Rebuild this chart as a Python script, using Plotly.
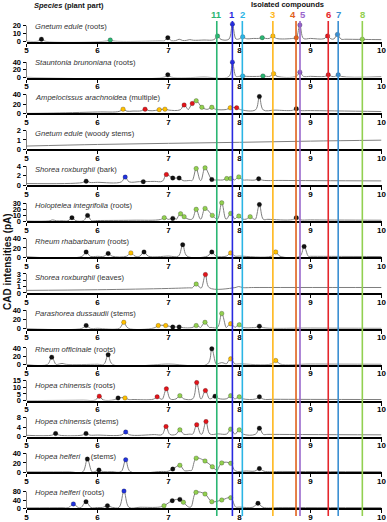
import numpy as np
import plotly.graph_objects as go

# ---------------- data ----------------
X_TICKS = [5, 6, 7, 8, 9, 10]

SPECIES = ["Gnetum edule", "Stauntonia brunoniana", "Ampelocissus arachnoidea",
           "Gnetum edule", "Shorea roxburghii", "Holoptelea integrifolia",
           "Rheum rhabarbarum", "Shorea roxburghii", "Parashorea dussaudii",
           "Rheum officinale", "Hopea chinensis", "Hopea chinensis",
           "Hopea helferi", "Hopea helferi"]
PARTS = ["(roots)", "(roots)", "(multiple)", "(woody stems)", "(bark)", "(roots)",
         "(roots)", "(leaves)", "(stems)", "(roots)", "(roots)", "(stems)",
         "\u00a0\u00a0\u00a0\u00a0(stems)", "(roots)"]
Y_TICKS = [[0, 10, 20], [0, 20, 40], [0, 20, 40], [0, 1, 2], [0, 2, 4],
           [0, 10, 20, 30], [0, 20, 40], [0, 1, 2, 3], [0, 20, 40], [0, 20, 40],
           [0, 5, 10, 15], [0, 4, 8], [0, 20, 40], [0, 40, 80]]
Y_MAX = [29, 60, 49, 2.47, 4.84, 39, 50.5, 3.63, 49.5, 55, 17.25, 9.7, 48.4, 111]

COMPOUNDS = ["11", "1", "2", "3", "4", "5", "6", "7", "8"]
COMPOUND_RT = [7.68, 7.90, 8.04, 8.47, 8.796, 8.852, 9.25, 9.39, 9.73]

# peaks: (retention time, intensity, marker class or None)
P01_PEAKS = [(5.21, 3, 'k'), (6.18, 2, 't'), (6.99, 5, 'k'), (7.15, 3, None), (7.30, 2.5, None),
             (7.69, 7, 't'), (7.90, 22, 'b'), (8.045, 6, 'c'), (8.32, 5, 't'), (8.47, 7, 'y'),
             (8.80, 5, 'o'), (8.85, 21, 'p'), (9.24, 7, 'r'), (9.38, 9, 's'), (9.73, 3, 'g')]
P01_BASE = [(5, 0.5), (6.9, 0.8), (7.5, 2), (8.2, 4), (9, 4), (9.5, 3), (10, 2.5)]

P02_PEAKS = [(6.99, 7, 'k'), (7.90, 40, 'b'), (8.045, 4, 'c'), (8.33, 4, 't'), (8.48, 10, 'y'),
             (8.85, 14, 'p'), (9.25, 7, 'r'), (9.39, 7, 's')]
P02_BASE = [(5, 0.5), (7.5, 1), (8, 3), (9, 3), (10, 2)]

P03_PEAKS = [(6.36, 9, 'y'), (6.67, 9, 'r'), (6.87, 8, 'y'), (6.95, 9, 'y'), (7.22, 18, 'r'),
             (7.335, 21, 'r'), (7.39, 27, 'g'), (7.47, 13, 'g'), (7.61, 13, 'g'), (7.87, 12, 'y'),
             (7.96, 12, 'r'), (8.28, 36, 'k'), (8.80, 10, 'k')]
P03_BASE = [(5, 0), (5.3, 0.5), (6, 3), (6.5, 5), (7, 7), (7.5, 9), (8, 8), (8.5, 7), (9, 6), (10, 4)]

P04_PEAKS = []
P04_BASE = [(5, 0.35), (6, 0.52), (7, 0.64), (8, 0.75), (9, 0.88), (10, 0.98)]

P05_PEAKS = [(5.84, 0.85, 'k'), (6.39, 1.7, 'b'), (6.645, 0.75, 'k'), (6.97, 2.25, 'r'),
             (7.06, 1.5, 'k'), (7.15, 1.5, 'k'), (7.39, 3.5, 'g'), (7.515, 3.65, 'g'),
             (7.61, 1.2, 'k'), (7.82, 1.4, 'g'), (7.876, 1.4, 'g'), (7.99, 1.75, 'g'), (8.27, 1.35, 'k')]
P05_BASE = [(5, 0.35), (6, 0.6), (6.8, 0.8), (7.3, 1.0), (7.7, 1.1), (8.1, 1.1), (8.6, 1.0), (10, 0.9)]

P06_PEAKS = [(5.37, 2, None), (5.64, 5.8, 'k'), (5.86, 9.7, 'k'), (6.94, 5.8, 'g'), (7.06, 4.6, 'k'),
             (7.17, 12.5, 'g'), (7.22, 7.5, 'g'), (7.39, 20, 'g'), (7.515, 21.5, 'g'), (7.617, 9.7, 'g'),
             (7.75, 31, 'g'), (7.876, 13, 'g'), (7.99, 8.5, 'g'), (8.15, 7.5, 'g'), (8.28, 28, 'k'),
             (8.80, 5.8, 'k')]
P06_BASE = [(5, 0), (5.5, 0.5), (6, 1), (6.5, 1.5), (7, 3), (7.6, 4), (8.4, 3), (9, 2), (10, 1.5)]

P07_PEAKS = [(5.84, 11, 'k'), (6.15, 7.7, 'k'), (6.47, 9, 'y'), (6.655, 11, 'k'), (7.2, 27, 'k'),
             (7.61, 11, 'k'), (7.876, 9, 'y'), (8.51, 11, 'y'), (8.91, 23, 'k')]
P07_BASE = [(5, 0.5), (6, 1.5), (7, 2), (8, 2), (9, 1.5), (10, 1)]

P08_PEAKS = [(7.39, 1.4, 'g'), (7.52, 2.9, 'r'), (7.99, 1.0, None)]
P08_BASE = [(5, 0.4), (6, 0.5), (7, 0.7), (7.3, 0.8), (8.2, 0.85), (10, 0.85)]

P09_PEAKS = [(5.84, 7, 'k'), (6.37, 14, 'y'), (6.856, 7, 'y'), (6.96, 7, 'y'), (7.06, 4, 'k'),
             (7.15, 4, 'k'), (7.39, 7, 'g'), (7.514, 14, 'g'), (7.75, 33, 'g'), (7.876, 11, 'y'),
             (7.997, 8.6, 'g'), (8.28, 5.6, 'k')]
P09_BASE = [(5, 0.5), (6, 1), (7, 2), (7.6, 3), (8.2, 2.5), (9, 1.5), (10, 1)]

P10_PEAKS = [(5.355, 18, 'k'), (5.5, 3, None), (6.15, 24, 'k'), (7.61, 38, 'k'), (7.75, 5, None),
             (7.876, 14, 'y'), (8.51, 10, 'y')]
P10_BASE = [(5, 0.5), (6, 1), (7, 1.5), (8, 2), (9, 1.5), (10, 1)]

P11_PEAKS = [(6.025, 3.3, 'r'), (6.29, 2, 'k'), (6.387, 2, 'y'), (6.84, 2.8, 'r'), (6.97, 8.8, 'r'),
             (7.16, 3.7, 'g'), (7.397, 13.5, 'r'), (7.52, 7.5, 'r'), (7.655, 3.3, 'k'),
             (7.876, 3.7, 'g'), (7.997, 2.8, 'g'), (8.28, 2.8, 'k')]
P11_BASE = [(5, 0), (5.8, 0.3), (6.5, 0.8), (7, 1.2), (7.7, 1.5), (8.5, 1), (10, 0.8)]

P12_PEAKS = [(5.41, 1.25, 'k'), (5.838, 1.25, 'k'), (6.397, 1.9, 'b'), (6.965, 4.2, 'r'),
             (7.16, 2.8, 'g'), (7.397, 5.0, 'r'), (7.528, 6.3, 'r'), (7.876, 3.1, 'g'),
             (7.997, 2.8, 'g'), (8.28, 3.5, 'k')]
P12_BASE = [(5, 0.5), (6, 0.6), (6.8, 0.8), (7.3, 1), (7.7, 1.1), (8.4, 0.9), (10, 0.7)]

P13_PEAKS = [(5.857, 28, 'k'), (6.02, 5, 'k'), (6.397, 26.5, 'b'), (7.06, 7, 'k'), (7.16, 15, 'g'),
             (7.39, 30, 'g'), (7.514, 24, 'g'), (7.617, 12, 'g'), (7.75, 20, 'g'), (7.876, 19, 'g'),
             (8.28, 8, 'k')]
P13_BASE = [(5, 1), (5.6, 1), (6.2, 1.5), (6.9, 2), (7.3, 4), (8.1, 3), (8.6, 2), (10, 1.5)]

P14_PEAKS = [(5.66, 21, 'b'), (5.838, 32, 'k'), (6.14, 12.5, 'k'), (6.373, 83, 'b'), (6.937, 12.5, 'g'),
             (7.053, 37, 'k'), (7.16, 43, 'k'), (7.21, 29, 'g'), (7.387, 77, 'g'), (7.514, 69, 'g'),
             (7.61, 32, 'g'), (7.75, 40, 'g'), (7.876, 51, 'g'), (8.26, 24, 'k')]
P14_BASE = [(5, 2), (5.5, 3), (6, 4), (6.6, 5), (7, 6), (7.7, 8), (8, 6), (8.6, 4), (10, 3)]

PANEL_PEAKS = [P01_PEAKS, P02_PEAKS, P03_PEAKS, P04_PEAKS, P05_PEAKS, P06_PEAKS, P07_PEAKS,
               P08_PEAKS, P09_PEAKS, P10_PEAKS, P11_PEAKS, P12_PEAKS, P13_PEAKS, P14_PEAKS]
PANEL_BASE = [P01_BASE, P02_BASE, P03_BASE, P04_BASE, P05_BASE, P06_BASE, P07_BASE,
              P08_BASE, P09_BASE, P10_BASE, P11_BASE, P12_BASE, P13_BASE, P14_BASE]

# ---------------- styles ----------------
MARKER_COLORS = {'k': '#111111', 'g': '#92d050', 'r': '#e3151b', 'y': '#ffc000', 'b': '#2233dd',
                 'c': '#2bb5e5', 't': '#2bb673', 'p': '#8e5bc8', 'o': '#e0601c', 's': '#3a8fd2'}
COMPOUND_COLORS = ['#2bb673', '#2929e0', '#2bb5e5', '#ffb81c', '#e0601c', '#9966cc',
                   '#e5262b', '#3a8fd2', '#92d050']
PEAK_HW = [0.05, 0.05, 0.055, 0.05, 0.055, 0.055, 0.06, 0.055, 0.06, 0.06, 0.055, 0.055, 0.065, 0.07]

W, H = 387, 522
FONT = "Liberation Sans"
X_LEFT_PX, X_RIGHT_PX = 26.5, 381.5
AXIS0_PX, STEP_PX, PANEL_H_PX = 41.6, 35.9, 23


def build_knots(peaks, base, hw):
    bx = [b[0] for b in base]
    by = [b[1] for b in base]
    apex = sorted(peaks)
    knots = []
    for x, y in base:
        if all(abs(x - p[0]) > hw * 1.2 for p in apex):
            knots.append((x, y))
    for i, (rt, h, _) in enumerate(apex):
        knots.append((rt, h))
        for side in (-1, 1):
            near = [p for j, p in enumerate(apex) if j != i and 0 < side * (p[0] - rt) < 2 * hw]
            if not near:
                fx = rt + side * hw
                knots.append((fx, float(np.interp(fx, bx, by))))
    knots.sort()
    return [k[0] for k in knots], [k[1] for k in knots]


fig = go.Figure()
layout = {}
shapes = []
annotations = []

for i in range(14):
    n = i + 1
    sx = '' if n == 1 else str(n)
    axis_px = AXIS0_PX + i * STEP_PX
    d0 = 1 - axis_px / H
    d1 = 1 - (axis_px - PANEL_H_PX) / H
    kx, ky = build_knots(PANEL_PEAKS[i], PANEL_BASE[i], PEAK_HW[i])
    fig.add_trace(go.Scatter(x=kx, y=ky, mode='lines', xaxis='x' + sx, yaxis='y' + sx,
                             line=dict(color='#7f7f7f', width=1, shape='spline', smoothing=1.0),
                             hoverinfo='skip', showlegend=False))
    mk = [p for p in PANEL_PEAKS[i] if p[2]]
    if mk:
        fig.add_trace(go.Scatter(x=[p[0] for p in mk], y=[p[1] for p in mk], mode='markers',
                                 xaxis='x' + sx, yaxis='y' + sx, cliponaxis=False,
                                 marker=dict(size=4.5, color=[MARKER_COLORS[p[2]] for p in mk],
                                             line=dict(width=0.5, color='rgba(0,0,0,0.45)')),
                                 showlegend=False))
    layout['xaxis' + sx] = dict(domain=[X_LEFT_PX / W, X_RIGHT_PX / W], anchor='y' + sx,
                                range=[5, 10], tickvals=X_TICKS, ticks='outside', ticklen=3,
                                tickwidth=1, tickcolor='black', showline=True, linewidth=2,
                                linecolor='black', showgrid=False, zeroline=False,
                                automargin=False, ticklabelstandoff=-3,
                                tickfont=dict(family=FONT, size=8, color='black', weight='bold'))
    layout['yaxis' + sx] = dict(domain=[d0, d1], anchor='x' + sx, range=[0, Y_MAX[i]],
                                tickvals=Y_TICKS[i], ticks='outside', ticklen=3, tickwidth=1,
                                tickcolor='black', showline=False, showgrid=False, zeroline=False,
                                automargin=False,
                                tickfont=dict(family=FONT, size=7.5, color='black', weight='bold'))
    shapes.append(dict(type='line', xref='x' + sx, yref='y' + sx, x0=5, x1=5, y0=0,
                       y1=Y_TICKS[i][-1], line=dict(color='black', width=1)))
    annotations.append(dict(x=33 / W, y=1 - (axis_px - 15.5) / H, xref='paper', yref='paper',
                            xanchor='left', yanchor='middle', showarrow=False,
                            text=f"<i>{SPECIES[i]}</i> {PARTS[i]}",
                            font=dict(family=FONT, size=7.6, color='#333333')))

for lab, rt, col in zip(COMPOUNDS, COMPOUND_RT, COMPOUND_COLORS):
    shapes.append(dict(type='line', xref='x', yref='paper', x0=rt, x1=rt, y0=1 - 516 / H,
                       y1=1 - 21 / H, line=dict(color=col, width=1.6), layer='above'))
    if lab == '4':
        xa, xx = 'right', (rt + 8.852) / 2
    elif lab == '5':
        xa, xx = 'left', (rt + 8.796) / 2
    else:
        xa, xx = 'center', rt
    annotations.append(dict(x=xx, y=1 - 14 / H, xref='x', yref='paper', xanchor=xa,
                            yanchor='middle', showarrow=False, text=f"<b>{lab}</b>",
                            font=dict(family=FONT, size=9.5, color=col)))

annotations.append(dict(x=287 / W, y=1 - 5 / H, xref='paper', yref='paper', showarrow=False,
                        xanchor='center', yanchor='middle', text="<b>Isolated compounds</b>",
                        font=dict(family=FONT, size=7.5, color='#111111')))
annotations.append(dict(x=32 / W, y=1 - 5.5 / H, xref='paper', yref='paper', showarrow=False,
                        xanchor='left', yanchor='middle',
                        text="<b><i>Species</i> (plant part)</b>",
                        font=dict(family=FONT, size=7.5, color='#111111')))
annotations.append(dict(x=7 / W, y=1 - 262 / H, xref='paper', yref='paper', showarrow=False,
                        xanchor='center', yanchor='middle', textangle=-90,
                        text="<b>CAD intensities (pA)</b>",
                        font=dict(family=FONT, size=10, color='#111111')))

fig.update_layout(width=W, height=H, margin=dict(l=0, r=0, t=0, b=0),
                  paper_bgcolor='white', plot_bgcolor='white', showlegend=False,
                  shapes=shapes, annotations=annotations, **layout)
fig.write_html("out.html", config={'displayModeBar': False},
               post_script="document.body.style.margin='0';document.body.style.overflow='hidden';")
